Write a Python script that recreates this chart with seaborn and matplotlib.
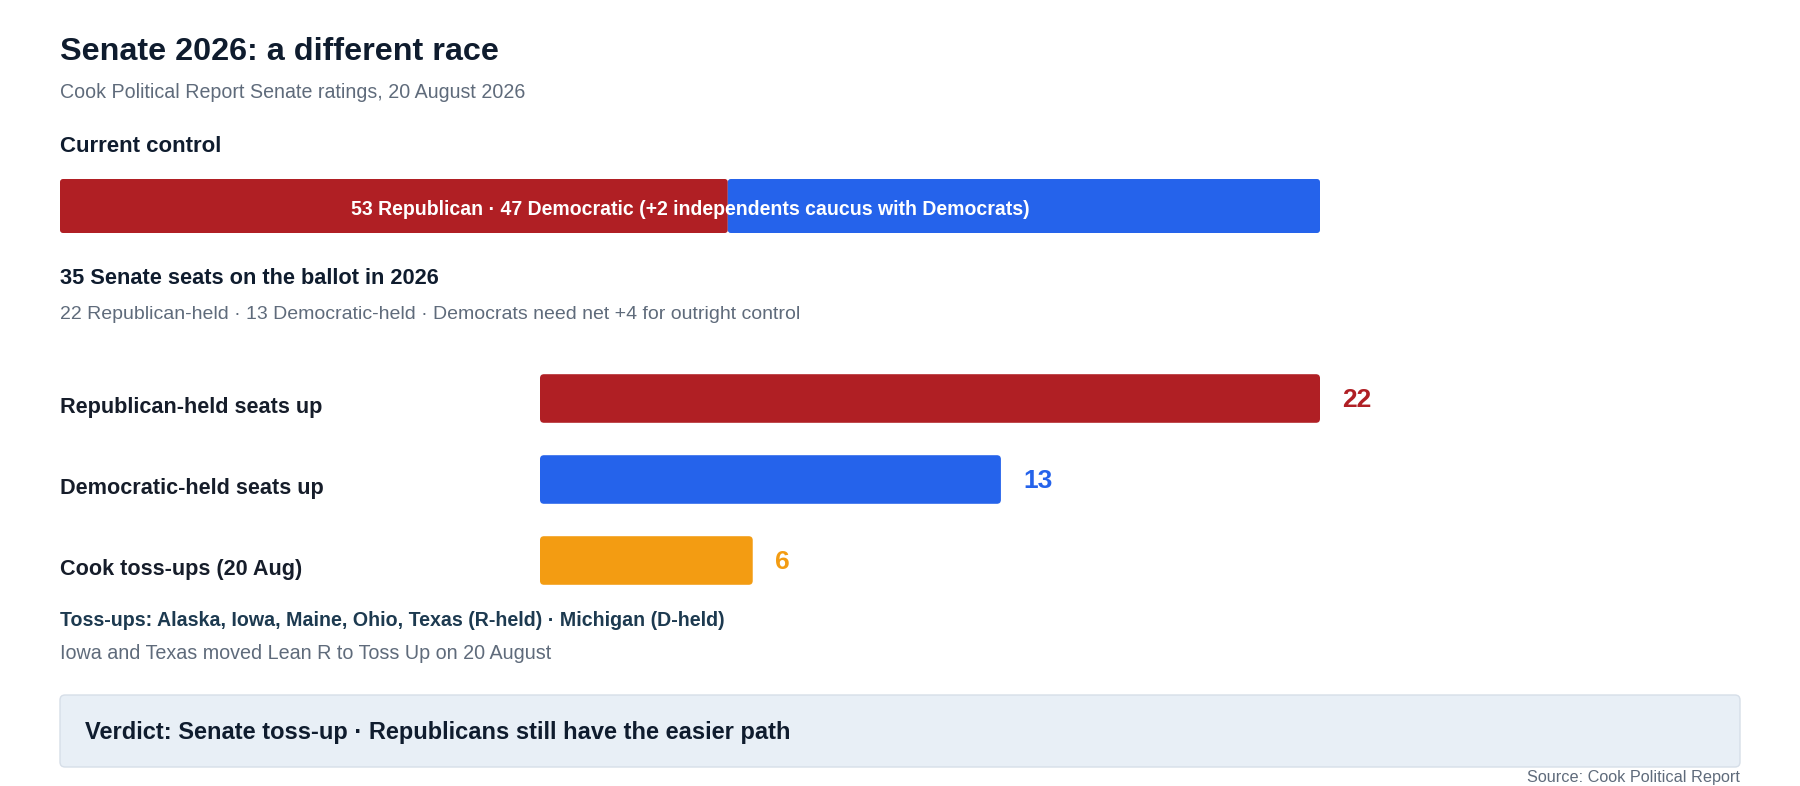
import numpy as np
import pandas as pd
import matplotlib.pyplot as plt
import matplotlib.transforms as mtransforms
from matplotlib.patches import FancyBboxPatch
import seaborn as sns

# --- data ---
control_parties = ["Republican", "Democratic"]
control_seats = [53, 47]
control_colors = ["#B01F24", "#2563EB"]

categories = ["Republican-held seats up", "Democratic-held seats up", "Cook toss-ups (20 Aug)"]
seat_counts = [22, 13, 6]
bar_colors = ["#B01F24", "#2563EB", "#F39C12"]

title = "Senate 2026: a different race"
subtitle = "Cook Political Report Senate ratings, 20 August 2026"
control_heading = "Current control"
control_label = "53 Republican \u00b7 47 Democratic (+2 independents caucus with Democrats)"
ballot_heading = "35 Senate seats on the ballot in 2026"
ballot_note = "22 Republican-held \u00b7 13 Democratic-held \u00b7 Democrats need net +4 for outright control"
tossup_list = "Toss-ups: Alaska, Iowa, Maine, Ohio, Texas (R-held) \u00b7 Michigan (D-held)"
tossup_note = "Iowa and Texas moved Lean R to Toss Up on 20 August"
verdict = "Verdict: Senate toss-up \u00b7 Republicans still have the easier path"
source = "Source: Cook Political Report"

sns.set_theme(style="white")
plt.rcParams['font.family'] = ['Liberation Sans', 'DejaVu Sans']

W, H = 1800, 786
fig = plt.figure(figsize=(W / 100, H / 100), dpi=100)
fig.patch.set_facecolor("white")

DARK = "#0F1C2E"
GREY = "#5F6B7B"


def px_axes(left, top, right, bottom):
    return fig.add_axes([left / W, 1 - bottom / H, (right - left) / W, (bottom - top) / H])


def ftext(x, y, s, **kw):
    kw.setdefault("va", "baseline")
    return fig.text(x / W, 1 - y / H, s, **kw)


def round_bars(ax, radius_px=4):
    # swap each bar for a rounded box of the same extent
    fig.canvas.draw()
    sx = ax.transData.transform((1, 0))[0] - ax.transData.transform((0, 0))[0]
    sy = abs(ax.transData.transform((0, 1))[1] - ax.transData.transform((0, 0))[1])
    for p in list(ax.patches):
        x, y, w, h = p.get_x(), p.get_y(), p.get_width(), p.get_height()
        fc = p.get_facecolor()
        p.set_visible(False)
        ax.add_patch(FancyBboxPatch((x, y), w, h,
                                    boxstyle=f"round,pad=0,rounding_size={radius_px / sx}",
                                    mutation_aspect=sx / sy, fc=fc, ec="none", lw=0))


# --- header ---
ftext(60, 60, title, fontsize=23.3, fontweight="bold", color=DARK)
ftext(60, 98, subtitle, fontsize=14.1, color=GREY)
ftext(60, 152, control_heading, fontsize=16, fontweight="bold", color=DARK)

# --- current control stacked bar ---
ax0 = px_axes(60, 179, 1320, 233)
left = 0
for seats, c in zip(control_seats, control_colors):
    ax0.barh(0, seats, left=left, height=1, color=c, edgecolor="white", linewidth=0.6)
    left += seats
ax0.set_xlim(0, sum(control_seats))
ax0.set_ylim(-0.5, 0.5)
ax0.axis("off")
ctrl_trans = mtransforms.offset_copy(ax0.transData, fig=fig, x=0, y=-9 * 0.72, units="points")
ax0.text(sum(control_seats) / 2, 0, control_label, transform=ctrl_trans, ha="center", va="baseline",
         fontsize=14.05, fontweight="bold", color="white")

ftext(60, 284, ballot_heading, fontsize=15.7, fontweight="bold", color=DARK)
ftext(60, 319, ballot_note, fontsize=14.0, color=GREY)

# --- seats up bars ---
ax = px_axes(540, 358, 1320, 601)
df = pd.DataFrame({"category": categories, "seats": seat_counts})
sns.barplot(data=df, x="seats", y="category", hue="category", palette=bar_colors,
            orient="h", width=0.6, legend=False, ax=ax, saturation=1)
ax.set_xlim(0, max(seat_counts))
ax.set_ylim(len(categories) - 0.5, -0.5)
ax.axis("off")

lab_trans = mtransforms.offset_copy(
    mtransforms.blended_transform_factory(fig.transFigure, ax.transData),
    fig=fig, x=0, y=-14.5 * 0.72, units="points")
val_trans = mtransforms.offset_copy(ax.transData, fig=fig, x=22 * 0.72, y=-8.5 * 0.72, units="points")
for i, (cat, v, c) in enumerate(zip(categories, seat_counts, bar_colors)):
    ax.text(60 / W, i, cat, transform=lab_trans, ha="left", va="baseline",
            fontsize=15.6, fontweight="bold", color="#161D2A")
    ax.text(v, i, str(v), transform=val_trans, ha="left", va="baseline",
            fontsize=19, fontweight="bold", color=c, clip_on=False)

round_bars(ax0, 3)
round_bars(ax, 4)

# --- toss-up notes ---
ftext(60, 626, tossup_list, fontsize=14.1, fontweight="bold", color="#1D3A50")
ftext(60, 659, tossup_note, fontsize=14.2, color=GREY)

# --- verdict box ---
box = FancyBboxPatch((60 / W, 1 - 767 / H), 1680 / W, 72 / H,
                     boxstyle=f"round,pad=0,rounding_size={5 / W}",
                     mutation_aspect=W / H, transform=fig.transFigure,
                     fc="#E8EFF6", ec="#D6DEE8", lw=1)
fig.patches.append(box)
ftext(85, 739, verdict, fontsize=17, fontweight="bold", color=DARK)

ftext(1740, 782, source, fontsize=11.7, color=GREY, ha="right")

fig.savefig("out.png", dpi=100, facecolor="white")
